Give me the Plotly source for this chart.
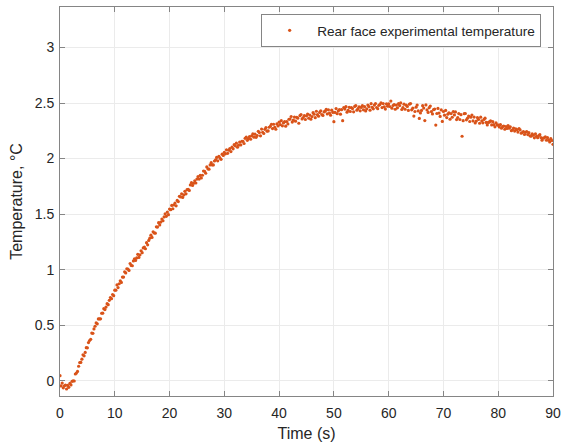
import plotly.graph_objects as go

# Sampling of the measured record (s)
sample_interval_s = 0.2
n_samples = 451
time_s = [round(i * sample_interval_s, 1) for i in range(n_samples)]

# Rear face experimental temperature (°C), one row per 2 seconds
rear_temp = [
    0.045, -0.047, -0.022, -0.064, -0.046, -0.040, -0.075, -0.043, -0.060, -0.025,
    -0.038, -0.006, -0.001, -0.003, 0.060, 0.068, 0.083, 0.130, 0.163, 0.164,
    0.194, 0.233, 0.224, 0.254, 0.297, 0.296, 0.343, 0.362, 0.372, 0.429,
    0.426, 0.466, 0.490, 0.520, 0.512, 0.556, 0.556, 0.557, 0.607, 0.608,
    0.648, 0.640, 0.663, 0.693, 0.684, 0.724, 0.749, 0.738, 0.776, 0.765,
    0.815, 0.815, 0.862, 0.838, 0.873, 0.900, 0.885, 0.933, 0.933, 0.980,
    0.970, 1.008, 1.005, 0.993, 1.055, 1.038, 1.035, 1.078, 1.098, 1.083,
    1.105, 1.138, 1.110, 1.133, 1.170, 1.153, 1.195, 1.203, 1.188, 1.243,
    1.223, 1.263, 1.283, 1.310, 1.290, 1.340, 1.330, 1.328, 1.385, 1.383,
    1.423, 1.403, 1.428, 1.455, 1.440, 1.475, 1.503, 1.480, 1.518, 1.495,
    1.545, 1.540, 1.578, 1.548, 1.583, 1.600, 1.575, 1.623, 1.613, 1.660,
    1.655, 1.683, 1.650, 1.673, 1.705, 1.683, 1.720, 1.723, 1.713, 1.763,
    1.783, 1.758, 1.778, 1.800, 1.780, 1.815, 1.838, 1.815, 1.848, 1.825,
    1.850, 1.888, 1.885, 1.868, 1.925, 1.908, 1.905, 1.943, 1.963, 1.943,
    1.943, 1.978, 1.988, 2.010, 1.980, 2.020, 2.005, 1.993, 2.040, 2.028,
    2.055, 2.043, 2.079, 2.047, 2.075, 2.090, 2.063, 2.103, 2.088, 2.125,
    2.115, 2.139, 2.102, 2.121, 2.149, 2.123, 2.156, 2.155, 2.136, 2.182,
    2.193, 2.164, 2.180, 2.198, 2.174, 2.205, 2.222, 2.193, 2.220, 2.191,
    2.208, 2.245, 2.234, 2.205, 2.266, 2.237, 2.226, 2.263, 2.279, 2.247,
    2.249, 2.282, 2.291, 2.309, 2.270, 2.309, 2.282, 2.264, 2.312, 2.294,
    2.328, 2.306, 2.341, 2.295, 2.321, 2.332, 2.292, 2.334, 2.312, 2.354,
    2.356, 2.379, 2.329, 2.346, 2.374, 2.337, 2.372, 2.364, 2.318, 2.386,
    2.397, 2.357, 2.370, 2.387, 2.352, 2.384, 2.401, 2.363, 2.392, 2.355,
    2.378, 2.413, 2.399, 2.368, 2.426, 2.395, 2.382, 2.416, 2.430, 2.396,
    2.389, 2.420, 2.427, 2.443, 2.402, 2.439, 2.410, 2.390, 2.436, 2.416,
    2.332, 2.416, 2.450, 2.404, 2.429, 2.440, 2.400, 2.440, 2.341, 2.459,
    2.446, 2.468, 2.418, 2.434, 2.462, 2.424, 2.458, 2.450, 2.421, 2.470,
    2.477, 2.436, 2.449, 2.465, 2.430, 2.461, 2.477, 2.439, 2.467, 2.429,
    2.448, 2.482, 2.468, 2.436, 2.494, 2.462, 2.448, 2.482, 2.495, 2.460,
    2.449, 2.480, 2.486, 2.501, 2.459, 2.495, 2.466, 2.446, 2.492, 2.472,
    2.493, 2.469, 2.518, 2.454, 2.478, 2.486, 2.444, 2.482, 2.457, 2.494,
    2.477, 2.501, 2.442, 2.459, 2.490, 2.444, 2.481, 2.470, 2.434, 2.490,
    2.496, 2.439, 2.454, 2.383, 2.424, 2.463, 2.482, 2.429, 2.362, 2.411,
    2.434, 2.476, 2.455, 2.342, 2.483, 2.438, 2.416, 2.458, 2.473, 2.423,
    2.402, 2.440, 2.446, 2.302, 2.406, 2.452, 2.410, 2.380, 2.438, 2.335,
    2.424, 2.391, 2.434, 2.369, 2.400, 2.411, 2.354, 2.405, 2.372, 2.423,
    2.393, 2.420, 2.351, 2.370, 2.405, 2.352, 2.395, 2.201, 2.341, 2.404,
    2.406, 2.349, 2.364, 2.383, 2.334, 2.373, 2.392, 2.339, 2.374, 2.321,
    2.338, 2.369, 2.353, 2.318, 2.373, 2.339, 2.322, 2.353, 2.364, 2.326,
    2.303, 2.326, 2.330, 2.340, 2.303, 2.332, 2.305, 2.286, 2.322, 2.303,
    2.302, 2.285, 2.306, 2.273, 2.288, 2.293, 2.264, 2.289, 2.272, 2.297,
    2.274, 2.286, 2.251, 2.259, 2.275, 2.248, 2.268, 2.260, 2.239, 2.269,
    2.258, 2.228, 2.235, 2.243, 2.217, 2.236, 2.244, 2.216, 2.233, 2.205,
    2.202, 2.222, 2.211, 2.187, 2.223, 2.200, 2.188, 2.208, 2.215, 2.189,
    2.166, 2.184, 2.187, 2.195, 2.165, 2.188, 2.166, 2.150, 2.179, 2.163,
    2.128,
]

x_ticks = [0, 10, 20, 30, 40, 50, 60, 70, 80, 90]
y_ticks = [0, 0.5, 1, 1.5, 2, 2.5, 3]
y_tick_labels = ["0", "0.5", "1", "1.5", "2", "2.5", "3"]

axis_color = "#858585"
text_color = "#262626"
font_family = "Arial, 'Liberation Sans', sans-serif"

fig = go.Figure()
fig.add_trace(go.Scatter(
    x=time_s, y=rear_temp, mode="markers",
    name="Rear face experimental temperature",
    marker=dict(color="#D95319", size=3.2, line=dict(width=0)),
))

axis_common = dict(
    showline=True, linecolor=axis_color, linewidth=1, mirror="ticks",
    ticks="inside", ticklen=5, tickcolor=axis_color, tickwidth=1,
    showgrid=True, gridcolor="#ebebeb", gridwidth=1, zeroline=False,
    automargin=False,
    tickfont=dict(family=font_family, size=14, color=text_color),
)

fig.update_layout(
    width=561, height=446,
    margin=dict(l=60, r=8, t=7, b=50),
    paper_bgcolor="white", plot_bgcolor="white",
    font=dict(family=font_family, color=text_color),
    showlegend=True,
    legend=dict(
        x=0.976, y=0.982, xanchor="right", yanchor="top",
        bgcolor="white", bordercolor=axis_color, borderwidth=1,
        itemwidth=45,
        font=dict(family=font_family, size=13.6, color=text_color),
    ),
    xaxis=dict(
        range=[0, 90], tickvals=x_ticks, ticklabelstandoff=4,
        title=dict(text="Time (s)", font=dict(family=font_family, size=16, color=text_color), standoff=8),
        **axis_common,
    ),
    yaxis=dict(
        range=[-0.138, 3.365], tickvals=y_ticks, ticktext=y_tick_labels,
        ticklabelstandoff=2,
        title=dict(text="Temperature, °C", font=dict(family=font_family, size=16, color=text_color), standoff=8),
        **axis_common,
    ),
)

fig.write_html("out.html")
